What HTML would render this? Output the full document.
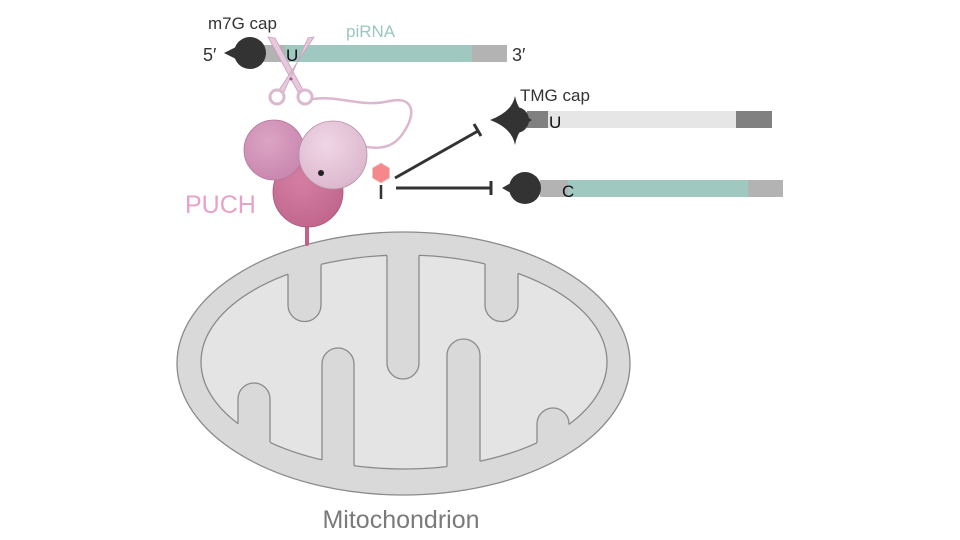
<!DOCTYPE html>
<html><head><meta charset="utf-8"><style>
html,body{margin:0;padding:0;background:#fff;}
svg{display:block;font-family:"Liberation Sans",sans-serif;}
</style></head><body>
<svg width="960" height="540" viewBox="0 0 960 540" xmlns="http://www.w3.org/2000/svg">
<defs>
<clipPath id="ci"><ellipse cx="404" cy="362" rx="203" ry="107"/></clipPath>
<clipPath id="cf"><ellipse cx="404" cy="362" rx="205" ry="109"/></clipPath>
<radialGradient id="g1" cx="40%" cy="35%" r="70%"><stop offset="0" stop-color="#dca4c4"/><stop offset="1" stop-color="#c886ae"/></radialGradient>
<radialGradient id="g2" cx="40%" cy="35%" r="70%"><stop offset="0" stop-color="#f0d6e6"/><stop offset="1" stop-color="#dbb6cd"/></radialGradient>
<radialGradient id="g3" cx="40%" cy="35%" r="70%"><stop offset="0" stop-color="#d67ea2"/><stop offset="1" stop-color="#c0668d"/></radialGradient>
</defs>

<!-- Mitochondrion -->
<ellipse cx="403.5" cy="363.5" rx="226.5" ry="131.5" fill="#d9d9d9" stroke="#8a8a8a" stroke-width="1.3"/>
<ellipse cx="404" cy="362" rx="203" ry="107" fill="#e4e4e4" stroke="#8a8a8a" stroke-width="1.3"/>
<g clip-path="url(#cf)" fill="#d9d9d9">
<path d="M288,240 V305 A16.5,16.5 0 0 0 321,305 V240 Z"/>
<path d="M387,240 V363 A16,16 0 0 0 419,363 V240 Z"/>
<path d="M485,240 V305 A16.5,16.5 0 0 0 518,305 V240 Z"/>
<path d="M238,480 V399 A16,16 0 0 1 270,399 V480 Z"/>
<path d="M322,480 V364 A16,16 0 0 1 354,364 V480 Z"/>
<path d="M447,480 V355.5 A16.5,16.5 0 0 1 480,355.5 V480 Z"/>
<path d="M537,480 V424 A16,16 0 0 1 569,424 V480 Z"/>
</g>
<g clip-path="url(#ci)" fill="none" stroke="#8a8a8a" stroke-width="1.3">
<path d="M288,240 V305 A16.5,16.5 0 0 0 321,305 V240"/>
<path d="M387,240 V363 A16,16 0 0 0 419,363 V240"/>
<path d="M485,240 V305 A16.5,16.5 0 0 0 518,305 V240"/>
<path d="M238,480 V399 A16,16 0 0 1 270,399 V480"/>
<path d="M322,480 V364 A16,16 0 0 1 354,364 V480"/>
<path d="M447,480 V355.5 A16.5,16.5 0 0 1 480,355.5 V480"/>
<path d="M537,480 V424 A16,16 0 0 1 569,424 V480"/>
</g>
<text x="401" y="528" font-size="25" fill="#7a7a7a" text-anchor="middle">Mitochondrion</text>

<!-- top RNA -->
<text x="208" y="29" font-size="17" fill="#333">m7G cap</text>
<text x="346" y="37" font-size="17" fill="#9cc7c0">piRNA</text>
<rect x="262" y="45" width="245" height="17" fill="#b3b3b3"/>
<rect x="285" y="45" width="187" height="17" fill="#9fc8c1"/>
<circle cx="250" cy="53" r="16" fill="#333"/>
<path d="M224,53 L240,45 L240,61 Z" fill="#333"/>
<text x="203" y="61" font-size="18" fill="#333">5′</text>
<text x="512" y="61" font-size="18" fill="#333">3′</text>
<text x="286" y="61" font-size="17" fill="#111">U</text>

<!-- scissors -->
<g stroke="#c9a0bd" stroke-width="0.8" fill="#e7c8dc">
<path d="M268,37 L275,38 L303,90 L298,92 Z"/>
<path d="M314,37 L308,38 L284,92 L279,90 Z"/>
</g>
<g fill="none" stroke="#dcb8cf" stroke-width="3">
<circle cx="277" cy="97" r="7"/>
<circle cx="305" cy="97" r="7"/>
<path d="M312,99 C340,95 360,108 390,101 C415,96 415,115 405,130 C395,148 380,150 362,146" stroke-width="2.5"/>
</g>
<circle cx="291" cy="79" r="1.5" fill="#9a5a82"/>

<!-- PUCH -->
<rect x="305" y="222" width="4" height="24" rx="2" fill="#c4608a"/>
<circle cx="308" cy="192" r="35" fill="url(#g3)" stroke="#a85078" stroke-width="0.8"/>
<circle cx="274" cy="150" r="30" fill="url(#g1)" stroke="#b4789c" stroke-width="0.8"/>
<circle cx="333" cy="155" r="34" fill="url(#g2)" stroke="#b98fab" stroke-width="0.8"/>
<circle cx="321" cy="173" r="3" fill="#222"/>
<text x="185" y="213" font-size="25" fill="#e8a2c8">PUCH</text>

<!-- inhibitor -->
<polygon points="381,163 389.5,168 389.5,178 381,183 372.5,178 372.5,168" fill="#f6888b" stroke="#e6c8c8" stroke-width="0.8"/>
<line x1="381" y1="185" x2="381" y2="199" stroke="#333" stroke-width="2.5"/>
<line x1="395" y1="178" x2="478" y2="131" stroke="#333" stroke-width="3"/>
<line x1="474" y1="124" x2="481" y2="136" stroke="#333" stroke-width="3"/>
<line x1="396" y1="188" x2="491" y2="188" stroke="#333" stroke-width="3"/>
<line x1="491" y1="181" x2="491" y2="195" stroke="#333" stroke-width="3"/>

<!-- TMG capped -->
<text x="520" y="101" font-size="17" fill="#333">TMG cap</text>
<rect x="527" y="111" width="245" height="17" fill="#e6e6e6"/>
<rect x="527" y="111" width="21" height="17" fill="#808080"/>
<rect x="736" y="111" width="36" height="17" fill="#808080"/>
<path d="M515,96 Q518,112 532,120 Q518,128 515,145 Q512,128 490,120 Q512,112 515,96 Z" fill="#333"/>
<circle cx="516" cy="120" r="13" fill="#333"/>
<text x="549" y="128" font-size="17" fill="#111">U</text>

<!-- bottom capped -->
<rect x="540" y="180" width="243" height="17" fill="#b3b3b3"/>
<rect x="568" y="180" width="180" height="17" fill="#9fc8c1"/>
<circle cx="525" cy="188" r="16" fill="#333"/>
<path d="M502,188 L516,180 L516,196 Z" fill="#333"/>
<text x="562" y="197" font-size="17" fill="#111">C</text>
</svg>
</body></html>
